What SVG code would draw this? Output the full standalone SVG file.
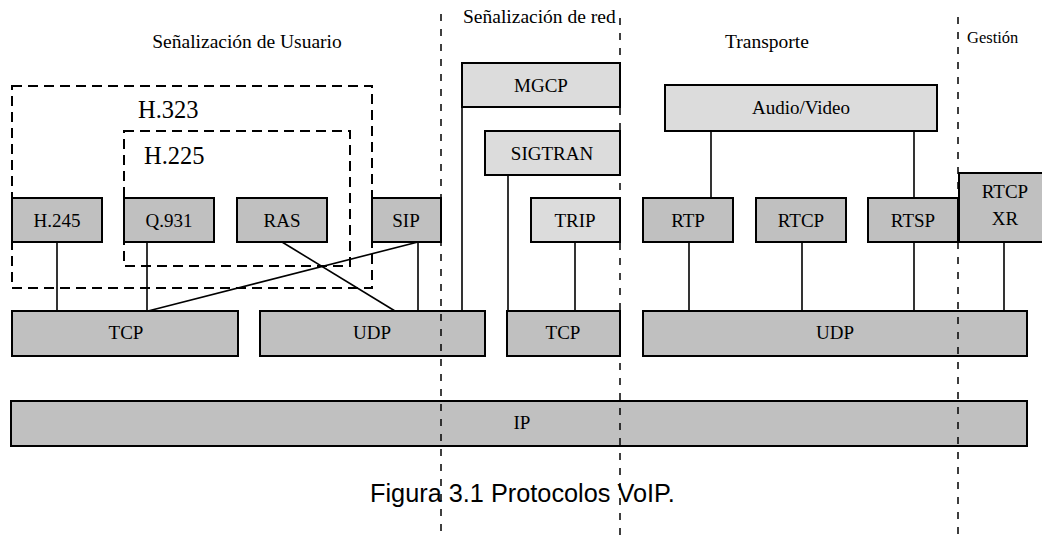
<svg xmlns="http://www.w3.org/2000/svg" width="1042" height="536" viewBox="0 0 1042 536">
<style>
.bx{fill:#c0c0c0;stroke:#000;stroke-width:2}
.lt{fill:#dcdcdc;stroke:#000;stroke-width:2}
.t{font-family:'Liberation Serif','Times New Roman',serif;font-size:19px;fill:#000;text-anchor:middle}
.s{font-family:'Liberation Serif','Times New Roman',serif;fill:#000}
.ln{stroke:#000;stroke-width:1.6;fill:none}
.vd{stroke:#000;stroke-width:1.5;stroke-dasharray:7 8;fill:none}
.rd{stroke:#000;stroke-width:2;stroke-dasharray:10 6;fill:none}
</style>
<rect width="1042" height="536" fill="#fff"/>
<g id="labels">
<text class="s" x="247" y="48" font-size="19.5" text-anchor="middle">Señalización de Usuario</text>
<text class="s" x="463" y="23" font-size="19.5">Señalización de red</text>
<text class="s" x="767" y="48" font-size="19.5" text-anchor="middle">Transporte</text>
<text class="s" x="967" y="43" font-size="16.5">Gestión</text>
<text x="370" y="502" font-family="'Liberation Sans',Arial,sans-serif" font-size="25.3" fill="#000">Figura 3.1 Protocolos VoIP.</text>
</g>
<g id="h323">
<rect class="rd" x="12" y="86" width="360" height="202"/>
<text class="s" x="138" y="118" font-size="24.5">H.323</text>
</g>
<g id="h225">
<rect class="rd" x="124" y="131" width="226" height="135"/>
<text class="s" x="144" y="164" font-size="24.5">H.225</text>
</g>
<g id="connectors">
<line class="ln" x1="57" y1="242" x2="57" y2="311"/>
<line class="ln" x1="147" y1="242" x2="147" y2="311"/>
<line class="ln" x1="418" y1="242" x2="148" y2="311"/>
<line class="ln" x1="282" y1="242" x2="395" y2="311"/>
<line class="ln" x1="418" y1="242" x2="418" y2="311"/>
<line class="ln" x1="462" y1="107" x2="462" y2="311"/>
<line class="ln" x1="508" y1="175" x2="508" y2="311"/>
<line class="ln" x1="575" y1="242" x2="575" y2="311"/>
<line class="ln" x1="711" y1="131" x2="711" y2="198"/>
<line class="ln" x1="914" y1="131" x2="914" y2="198"/>
<line class="ln" x1="689" y1="242" x2="689" y2="311"/>
<line class="ln" x1="802" y1="242" x2="802" y2="311"/>
<line class="ln" x1="914" y1="242" x2="914" y2="311"/>
<line class="ln" x1="1004" y1="242" x2="1004" y2="311"/>
</g>
<g id="mgcp"><rect class="lt" x="462" y="63" width="158" height="44"/><text class="t" x="541" y="92">MGCP</text></g>
<g id="sigtran"><rect class="lt" x="485" y="131" width="135" height="44"/><text class="t" x="552" y="160">SIGTRAN</text></g>
<g id="audiovideo"><rect class="lt" x="665" y="85" width="272" height="46"/><text class="t" x="801" y="114">Audio/Video</text></g>
<g id="h245"><rect class="bx" x="12" y="198" width="90" height="44"/><text class="t" x="57" y="227">H.245</text></g>
<g id="q931"><rect class="bx" x="124" y="198" width="90" height="44"/><text class="t" x="169" y="227">Q.931</text></g>
<g id="ras"><rect class="bx" x="237" y="198" width="90" height="44"/><text class="t" x="282" y="227">RAS</text></g>
<g id="sip"><rect class="bx" x="372" y="198" width="69" height="44"/><text class="t" x="406" y="227">SIP</text></g>
<g id="trip"><rect class="lt" x="531" y="198" width="89" height="44"/><text class="t" x="575" y="227">TRIP</text></g>
<g id="rtp"><rect class="bx" x="643" y="198" width="90" height="44"/><text class="t" x="688" y="227">RTP</text></g>
<g id="rtcp"><rect class="bx" x="756" y="198" width="90" height="44"/><text class="t" x="801" y="227">RTCP</text></g>
<g id="rtsp"><rect class="bx" x="868" y="198" width="90" height="44"/><text class="t" x="913" y="227">RTSP</text></g>
<g id="rtcpxr"><rect class="bx" x="959" y="173" width="90" height="69"/><text class="t" x="1005" y="198">RTCP</text><text class="t" x="1005" y="225">XR</text></g>
<g id="tcp1"><rect class="bx" x="12" y="311" width="226" height="45"/><text class="t" x="126" y="339" font-size="18">TCP</text></g>
<g id="udp1"><rect class="bx" x="260" y="311" width="225" height="45"/><text class="t" x="372" y="339" font-size="18">UDP</text></g>
<g id="tcp2"><rect class="bx" x="507" y="311" width="113" height="45"/><text class="t" x="563" y="339" font-size="18">TCP</text></g>
<g id="udp2"><rect class="bx" x="643" y="311" width="384" height="45"/><text class="t" x="835" y="339" font-size="18">UDP</text></g>
<g id="ip"><rect class="bx" x="11" y="401" width="1016" height="45"/><text class="t" x="522" y="429" font-size="17">IP</text></g>
<g id="separators">
<line class="vd" x1="441" y1="14" x2="441" y2="536"/>
<line class="vd" x1="620" y1="18" x2="620" y2="536"/>
<line class="vd" x1="958" y1="17" x2="958" y2="536"/>
</g>
</svg>
